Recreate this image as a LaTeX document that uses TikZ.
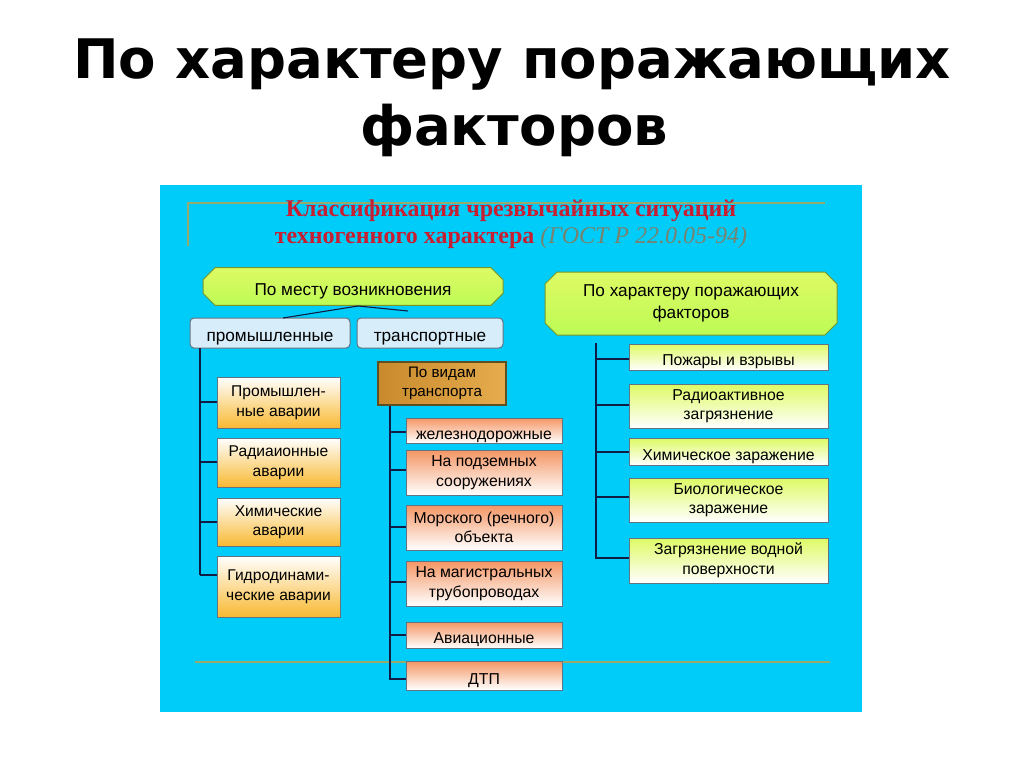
\documentclass[tikz,border=0pt]{standalone}
\usepackage{fontspec}
\setmainfont{Liberation Sans}
\newfontfamily\hserif{Liberation Serif}
\newfontfamily\ttlfont{DejaVu Sans}
\usetikzlibrary{shapes.misc}
\definecolor{panel}{RGB}{0,204,250}
\definecolor{olive}{RGB}{150,170,110}
\definecolor{navy}{RGB}{16,30,70}
\definecolor{hred}{RGB}{200,30,50}
\definecolor{hgray}{RGB}{120,130,110}
\definecolor{lime}{RGB}{222,250,100}
\definecolor{limeb}{RGB}{120,150,40}
\definecolor{orng}{RGB}{248,185,50}
\definecolor{salm}{RGB}{244,150,100}
\definecolor{brnl}{RGB}{200,138,45}
\definecolor{brnr}{RGB}{230,172,78}
\definecolor{brnb}{RGB}{95,80,35}
\definecolor{lblue}{RGB}{215,238,250}
\definecolor{bgray}{RGB}{100,115,130}
\tikzset{
  tline/.style={navy, line width=1.1pt},
  vline/.style={navy, line width=2pt},
  gline/.style={olive, line width=1.6pt},
  vfix/.style={execute at begin node={\rule{0pt}{#1}}},
  topbox/.style={chamfered rectangle, chamfered rectangle xsep=6pt, chamfered rectangle ysep=6pt,
    draw=limeb, line width=1pt, top color=lime, bottom color=lime!85!green, align=center,
    font=\fontsize{17.2}{21.5}\selectfont, inner sep=0pt, vfix=22pt},
  catbox/.style={rounded corners=4pt, draw=bgray, line width=1pt, fill=lblue, align=center,
    font=\fontsize{17.2}{21}\selectfont, inner sep=0pt, minimum height=30pt, vfix=21pt},
  orbox/.style={draw=bgray, line width=0.9pt, shading angle=-45, top color=white, middle color=white, bottom color=orng,
    align=center, font=\fontsize{15.6}{19.5}\selectfont, inner sep=0pt, minimum width=123pt, vfix=22pt},
  sabox/.style={draw=bgray, line width=0.9pt, shading angle=-45, top color=salm, middle color=white!85!salm, bottom color=white,
    align=center, font=\fontsize{15.8}{19.5}\selectfont, inner sep=0pt, minimum width=156pt, vfix=21pt},
  libox/.style={draw=bgray, line width=0.9pt, shading angle=45, top color=lime, middle color=white!88!lime, bottom color=white,
    align=center, font=\fontsize{15.8}{19.5}\selectfont, inner sep=0pt, minimum width=199pt, vfix=21pt},
}
\begin{document}
\begin{tikzpicture}[x=1pt,y=-1pt]
\useasboundingbox (0,0) rectangle (1024,767);
\fill[white] (0,0) rectangle (1024,767);
% title
\node[font=\ttlfont\bfseries\fontsize{54.5}{66}\selectfont, anchor=base] (title1) at (512,79) {По характеру поражающих};
\node[font=\ttlfont\bfseries\fontsize{54.5}{66}\selectfont, anchor=base] (title2) at (514,146) {факторов};
% panel
\fill[panel] (160,185) rectangle (862,712);
\coordinate (g1) at (188,246);
\coordinate (g2) at (188,203);
\coordinate (g3) at (825,203);
\coordinate (g4) at (195,662);
\coordinate (g5) at (830,662);
\draw[gline] (g1) -- (g2) -- (g3);
\draw[gline] (g4) -- (g5);
\node[align=center, font=\hserif\bfseries\fontsize{24}{27}\selectfont, text=hred] (head) at (511,224)
  {Классификация чрезвычайных ситуаций\\техногенного характера {\mdseries\itshape\color{hgray}(ГОСТ Р 22.0.05-94)}};
% top boxes
\node[topbox, minimum width=300pt, minimum height=37pt] (place) at (353,286.5) {По месту возникновения};
\node[topbox, minimum width=292pt, minimum height=63pt] (fact) at (691,303.5) {По характеру поражающих\\факторов};
% categories
\node[catbox, minimum width=160pt] (prom) at (270,333) {промышленные};
\node[catbox, minimum width=146pt] (trans) at (430,333) {транспортные};
\coordinate (pl) at (358,306);
\draw[tline] (pl) -- (283,318);
\draw[tline] (pl) -- (408,311);
% left column
\node[orbox, minimum height=51pt] (a1) at (278.5,402.5) {Промышлен-\\ные аварии};
\node[orbox, minimum height=49pt] (a2) at (278.5,462.5) {Радиаионные\\аварии};
\node[orbox, minimum height=48pt] (a3) at (278.5,522) {Химические\\аварии};
\node[orbox, minimum height=61pt] (a4) at (278.5,586.5) {Гидродинами-\\ческие аварии};
\coordinate (lt) at (200,348);
\coordinate (lb) at (200,575);
\draw[vline] (lt) -- (lb);
\foreach \n/\y in {a1/402,a2/462,a3/522,a4/575}{
  \draw[tline] (200,\y) -- (\n.west |- 0,\y);
}
% transport kinds
\node[draw=brnb, line width=1.5pt, left color=brnl, right color=brnr, align=center,
  font=\fontsize{15.2}{19}\selectfont, inner sep=0pt, minimum width=128pt, minimum height=43pt, vfix=21pt] (kind) at (442,383.5)
  {По видам\\транспорта};
\node[sabox, minimum height=25pt] (b1) at (484,430.5) {железнодорожные};
\node[sabox, minimum height=45pt] (b2) at (484,472.5) {На подземных\\сооружениях};
\node[sabox, minimum height=45pt] (b3) at (484,527.5) {Морского (речного)\\объекта};
\node[sabox, minimum height=45pt] (b4) at (484,583.5) {На магистральных\\трубопроводах};
\node[sabox, minimum height=26pt] (b5) at (484,635) {Авиационные};
\node[sabox, minimum height=29pt] (b6) at (484,675.5) {ДТП};
\coordinate (mt) at (390,406);
\coordinate (mb) at (390,680);
\draw[vline] (mt) -- (mb);
\foreach \n/\y in {b1/432,b2/470,b3/527,b4/582,b5/635,b6/679}{
  \draw[tline] (390,\y) -- (\n.west |- 0,\y);
}
% right column
\node[libox, minimum height=26pt] (c1) at (728.5,357) {Пожары и взрывы};
\node[libox, minimum height=44pt] (c2) at (728.5,406) {Радиоактивное\\загрязнение};
\node[libox, minimum height=27pt] (c3) at (728.5,451.5) {Химическое заражение};
\node[libox, minimum height=44pt] (c4) at (728.5,500) {Биологическое\\заражение};
\node[libox, minimum height=45pt] (c5) at (728.5,560.5) {Загрязнение водной\\поверхности};
\coordinate (rt) at (596,343);
\coordinate (rb) at (596,559);
\draw[vline] (rt) -- (rb);
\foreach \n/\y in {c1/359,c2/405,c3/452,c4/497,c5/558}{
  \draw[tline] (596,\y) -- (\n.west |- 0,\y);
}
\end{tikzpicture}
\end{document}
